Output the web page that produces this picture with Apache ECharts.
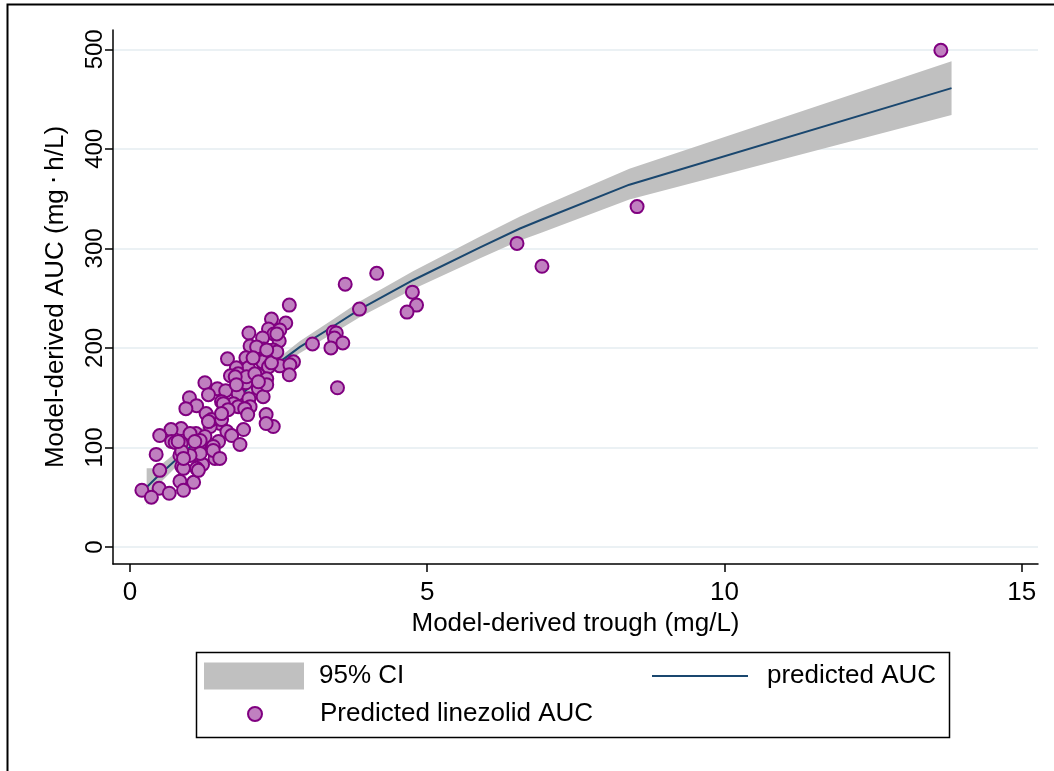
<!DOCTYPE html>
<html>
<head>
<meta charset="utf-8">
<script src="https://cdn.jsdelivr.net/npm/echarts@6/dist/echarts.min.js"></script>
<style>html,body{margin:0;padding:0;background:#fff}#c{width:1054px;height:771px}</style>
</head>
<body>
<div id="c"></div>
<script>
// ---- data ----
const xTicks = [0, 5, 10, 15];
const yTicks = [0, 100, 200, 300, 400, 500];
const xTitle = 'Model-derived trough (mg/L)';
const yTitle = 'Model-derived AUC (mg\u2009\u22C5\u2009h/L)';
const legendNames = ['95% CI', 'predicted AUC', 'Predicted linezolid AUC'];

// fitted line and 95% CI
const fitX = [0.28, 0.45, 1.0, 1.2, 1.56, 2.0, 2.52, 2.86, 3.4, 3.87, 4.76, 5.89, 6.56, 6.93, 8.4, 13.82];
const fitY = [60, 70, 100, 113, 136, 160, 186, 201, 221, 239, 268, 301, 320, 329, 364, 461];
const ciLo = [42, 61, 94, 107, 131, 155, 181, 195, 214, 231, 259, 290, 308, 316, 349, 434];
const ciHi = [79, 79, 106, 119, 141, 165, 191, 207, 228, 247, 277, 312, 332, 342, 380, 488];

// observed points
const scatterX = [
  13.64, 8.53, 6.51, 6.93, 4.15, 3.62, 4.75, 4.82, 4.66, 3.86, 3.42, 3.47, 3.44, 3.38, 3.58, 3.07, 3.49,
  2.68, 2.38, 2.62, 2.00, 2.33, 2.42, 2.52, 2.51, 2.23, 2.02, 2.25, 2.41, 2.13, 1.64, 1.95, 2.75, 2.52,
  2.23, 2.33, 1.99, 2.07, 2.38, 2.69, 2.47, 2.30, 1.79, 2.47,
  2.68, 1.82, 1.69, 2.16, 2.30, 1.95, 1.26, 1.47, 1.61, 1.32, 1.82, 2.16, 2.24, 2.00, 1.96, 2.10, 1.77,
  1.79, 2.30, 2.16, 1.54, 1.74, 1.82, 2.02, 1.00, 1.57, 1.65, 1.93, 1.12, 0.94,
  1.28, 1.98, 2.29, 2.41, 2.29, 1.91, 1.52, 1.35, 1.11, 0.86, 0.69, 0.50, 1.37, 1.54, 1.54, 1.32, 1.63,
  1.71, 1.26, 1.01,
  0.70, 0.86, 1.18, 1.49, 1.85, 0.44, 0.84, 0.93, 1.15, 1.37, 1.43, 1.22, 0.87, 0.50, 1.12, 0.84, 1.07,
  0.49, 0.66, 0.90, 0.20, 0.36, 0.76, 0.90, 1.15, 1.40, 1.09, 1.40, 1.18, 1.01, 0.87, 0.90, 1.51, 0.81
];
const scatterY = [
  499, 342, 305, 282, 275, 264, 256, 243, 236, 239, 216, 215, 210, 200, 205, 204, 160,
  243, 229, 225, 215, 219, 214, 218, 207, 210, 202, 199, 198, 201, 189, 190, 186, 182,
  186, 181, 180, 190, 185, 183, 196, 198, 180, 214,
  173, 174, 172, 173, 169, 165, 165, 159, 157, 153, 154, 159, 151, 149, 171, 174, 171,
  163, 163, 166, 146, 144, 141, 141, 150, 144, 138, 139, 142, 139,
  134, 133, 133, 121, 124, 118, 124, 121, 114, 119, 118, 112, 128, 128, 134, 126, 116,
  112, 111, 114,
  106, 104, 107, 106, 103, 93, 92, 91, 92, 99, 89, 83, 81, 77, 79, 66, 65,
  59, 54, 57, 57, 50, 105, 79, 77, 101, 106, 97, 94, 92, 96, 89, 89, 106
];

// ---- chart ----
const FONT = '"Liberation Sans", Arial, Helvetica, sans-serif';
const chart = echarts.init(document.getElementById('c'), null, {renderer: 'canvas'});

const X0 = 113, X1 = 1038, Y0 = 564, Y1 = 30;   // plot region (px)
const x0px = 130, x15px = 1021.7, y0px = 547, y500px = 49.3;
const pxPerX = (x15px - x0px) / (xTicks[xTicks.length-1] - xTicks[0]);
const pxPerY = (y0px - y500px) / (yTicks[yTicks.length-1] - yTicks[0]);
const xMin = xTicks[0] - (x0px - X0) / pxPerX;
const xMax = xTicks[xTicks.length-1] + (X1 - x15px) / pxPerX;
const yMin = yTicks[0] - (Y0 - y0px) / pxPerY;
const yMax = yTicks[yTicks.length-1] + (y500px - Y1) / pxPerY;

const scatterData = scatterX.map((x, i) => [x, scatterY[i]]);
const lineData = fitX.map((x, i) => [x, fitY[i]]);

const legendText = {fontSize: 26, color: '#000', fontFamily: FONT, lineHeight: 28};

const option = {
  animation: false,
  backgroundColor: '#ffffff',
  textStyle: {fontFamily: FONT},
  grid: [
    {left: X0, right: 1054 - X1, top: Y1, bottom: 771 - Y0},
    {left: x0px, right: 1054 - x15px, top: Y1, bottom: 771 - Y0},
    {left: X0, right: 1054 - X1, top: y500px, bottom: 771 - y0px}
  ],
  xAxis: [
    {gridIndex: 0, type: 'value', min: xMin, max: xMax,
     axisLine: {show: true, onZero: false, lineStyle: {color: '#000', width: 1.5}},
     axisTick: {show: false}, axisLabel: {show: false}, splitLine: {show: false},
     name: xTitle, nameLocation: 'middle', nameGap: 47,
     nameTextStyle: {fontSize: 26, color: '#000', fontFamily: FONT}},
    {gridIndex: 1, type: 'value', min: xTicks[0], max: xTicks[xTicks.length-1], interval: 5,
     axisLine: {show: false, onZero: false}, axisTick: {show: true, length: 8, lineStyle: {color: '#000', width: 1.5}},
     axisLabel: {fontSize: 26, color: '#000', margin: 16, fontFamily: FONT},
     splitLine: {show: false}},
    {gridIndex: 2, type: 'value', min: xTicks[0], max: xTicks[xTicks.length-1], show: false}
  ],
  yAxis: [
    {gridIndex: 0, type: 'value', min: yMin, max: yMax,
     axisLine: {show: true, onZero: false, lineStyle: {color: '#000', width: 1.5}},
     axisTick: {show: false}, axisLabel: {show: false}, splitLine: {show: false},
     name: yTitle, nameLocation: 'middle', nameGap: 44,
     nameTextStyle: {fontSize: 26, color: '#000', fontFamily: FONT}},
    {gridIndex: 1, type: 'value', min: 0, max: 500, show: false},
    {gridIndex: 2, type: 'value', min: yTicks[0], max: yTicks[yTicks.length-1], interval: 100,
     axisLine: {show: false, onZero: false},
     axisTick: {show: true, length: 8, lineStyle: {color: '#000', width: 1.5}},
     axisLabel: {fontSize: 24, color: '#000', rotate: 90, margin: 6, fontFamily: FONT},
     splitLine: {show: true, lineStyle: {color: '#e4edf0', width: 1.5}}}
  ],
  legend: [
    {data: [{name: legendNames[0], icon: 'rect'}], left: 204, top: 662, itemWidth: 100, itemHeight: 27,
     padding: 0, selectedMode: false, textStyle: Object.assign({padding: [0, 0, 0, 10]}, legendText)},
    {data: [{name: legendNames[1], icon: 'path://M0,0L96,0L96,2.2L0,2.2Z'}], left: 652, top: 662,
     itemWidth: 96, itemHeight: 27,
     padding: 0, selectedMode: false, textStyle: Object.assign({padding: [0, 0, 0, 14]}, legendText)},
    {data: [{name: legendNames[2], icon: 'circle'}], left: 247, top: 700, itemWidth: 14, itemHeight: 14,
     padding: 0, selectedMode: false, textStyle: Object.assign({padding: [0, 0, 0, 53]}, legendText)}
  ],
  graphic: [
    {type: 'rect', shape: {x: 7.5, y: 4.5, width: 1100, height: 800},
     style: {fill: 'none', stroke: '#000', lineWidth: 2}, silent: true, z: 100},
    {type: 'rect', shape: {x: 196.5, y: 652.5, width: 753, height: 85},
     style: {fill: 'none', stroke: '#000', lineWidth: 1.5}, silent: true, z: 100}
  ],
  series: [
    {name: legendNames[0], type: 'custom', xAxisIndex: 0, yAxisIndex: 0,
     itemStyle: {color: '#c0c0c0'},
     data: [[fitX[0], fitY[0]]],
     renderItem: function (params, api) {
       const up = fitX.map((x, i) => api.coord([x, ciHi[i]]));
       const dn = fitX.map((x, i) => api.coord([x, ciLo[i]])).reverse();
       return {type: 'polygon', shape: {points: up.concat(dn)}, style: {fill: '#c0c0c0'}};
     }, z: 1},
    {name: legendNames[1], type: 'line', xAxisIndex: 0, yAxisIndex: 0, data: lineData,
     symbol: 'none', showSymbol: false, lineStyle: {color: '#1a476f', width: 2},
     itemStyle: {color: '#1a476f'}, z: 2},
    {name: legendNames[2], type: 'scatter', xAxisIndex: 0, yAxisIndex: 0, data: scatterData,
     symbol: 'circle', symbolSize: 13,
     itemStyle: {color: '#c080c0', borderColor: '#800080', borderWidth: 2, opacity: 1}, z: 3}
  ]
};
chart.setOption(option);
</script>
</body>
</html>
